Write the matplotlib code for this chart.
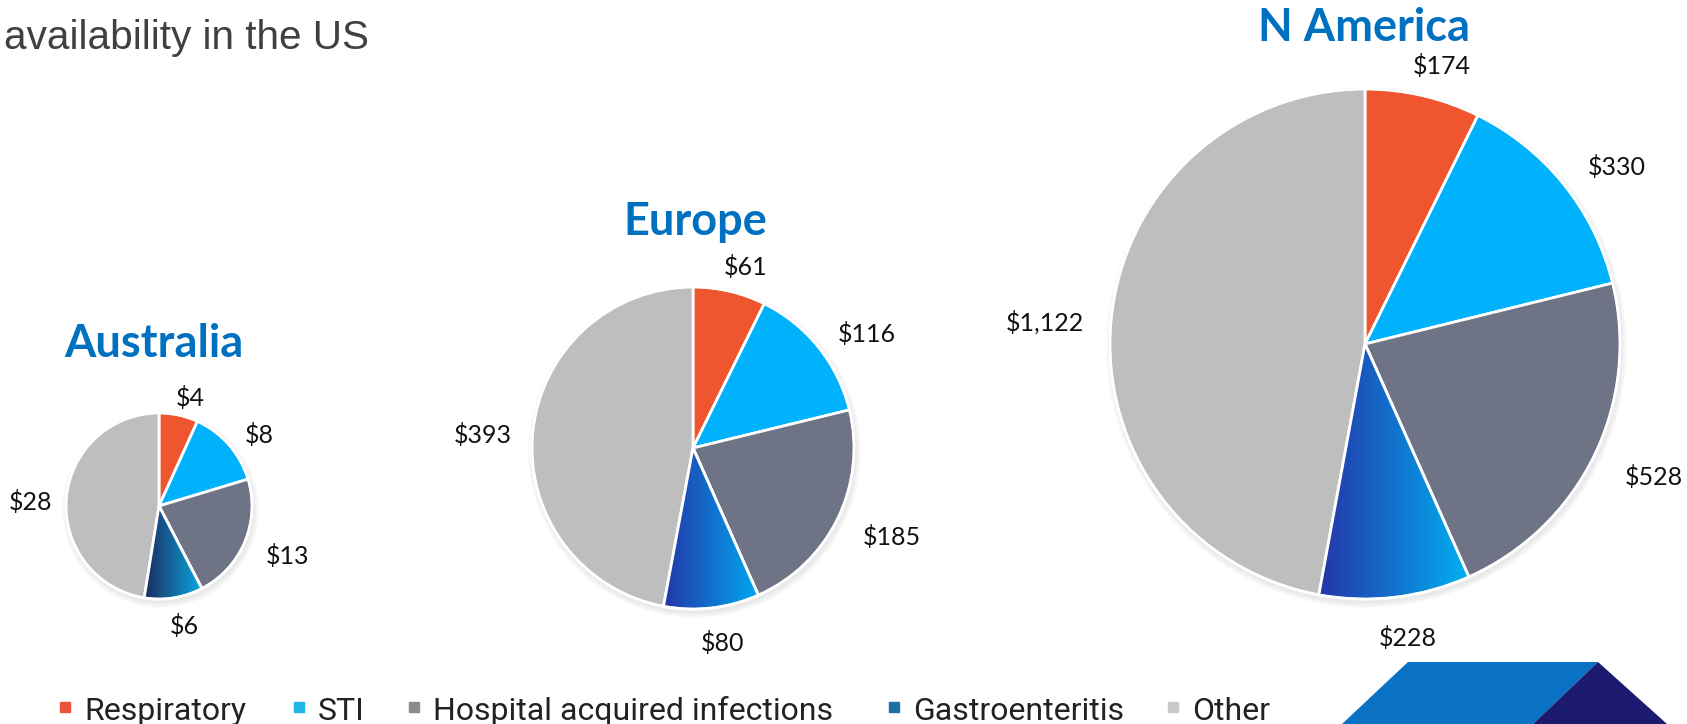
import numpy as np
import matplotlib
matplotlib.use("Agg")
import matplotlib.pyplot as plt
from matplotlib.colors import LinearSegmentedColormap
from matplotlib.patches import Circle, Polygon, Wedge

# ---------------- data ----------------
categories = ["Respiratory", "STI", "Hospital acquired infections", "Gastroenteritis", "Other"]
regions = ["Australia", "Europe", "N America"]
australia = [4, 8, 13, 6, 28]
europe = [61, 116, 185, 80, 393]
n_america = [174, 330, 528, 228, 1122]
header_text = "availability in the US"

# ---------------- style / layout ----------------
W, H = 1687, 724
slice_colors = ["#EF5630", "#00B2FC", "#6E7385", "#1565C8", "#BEBEBE"]
legend_colors = ["#E8533A", "#21B6EA", "#8C8C8C", "#1D6FA5", "#C9C9C9"]
gastro_grad = [("#1C2B5E", "#0AA8E0"), ("#2436A8", "#00A8F0"), ("#2535A8", "#00B0F2")]
# (center x px, center y px from top, radius px, label gap px, title x, title baseline y)
layout = [
    (159, 506, 93, 19, 154, 357),
    (693, 448, 161, 26, 695, 235),
    (1365, 344, 255, 32, 1364, 41),
]
label_dy_reduce = 8      # vertical gap is a bit tighter than horizontal
label_dx_shift = 5
label_dy_shift = -5
legend_x = [65, 299, 414, 894, 1173]   # swatch x positions (px)
legend_y = 711
title_color = "#0070C0"
label_font = ["Lato", "DejaVu Sans"]

fig = plt.figure(figsize=(W / 100, H / 100), dpi=100)
ax = fig.add_axes([0, 0, 1, 1])
ax.set_xlim(0, W)
ax.set_ylim(0, H)

all_values = [australia, europe, n_america]
placed = []  # (text, anchor, unit vector)

for values, (cx, cyt, r, gap, tx, tyt), grad, name in zip(all_values, layout, gastro_grad, regions):
    cy = H - cyt
    # soft shadow
    for k in range(5):
        ax.add_patch(Circle((cx + 1.5, cy - 3.5), r + 0.5 + k * 1.2, color="#9a9a9a",
                            alpha=0.045, lw=0, zorder=1))
    wedges, _ = ax.pie(values, colors=slice_colors, startangle=90, counterclock=False,
                       center=(cx, cy), radius=r,
                       wedgeprops=dict(edgecolor="white", linewidth=2, zorder=2))
    # labels placed just outside each slice
    for w, v in zip(wedges, values):
        mid = np.deg2rad((w.theta1 + w.theta2) / 2)
        u = np.array([np.cos(mid), np.sin(mid)])
        anchor = np.array([cx + label_dx_shift, cy + label_dy_shift]) + u * r + \
            np.array([u[0] * gap, u[1] * (gap - label_dy_reduce)])
        t = ax.text(anchor[0], anchor[1], "\\$" + f"{v:,}", ha="center", va="center",
                    fontsize=18, family=label_font, color="#111111")
        placed.append((t, anchor, u))
    # gradient for gastroenteritis slice
    gw = wedges[3]
    ext = gw.get_path().get_extents()
    cmap = LinearSegmentedColormap.from_list("g", list(grad))
    img = ax.imshow(np.linspace(0, 1, 256)[None, :], cmap=cmap, aspect="auto",
                    extent=(ext.x0, ext.x1, ext.y0, ext.y1), zorder=2.5,
                    interpolation="bilinear")
    img.set_clip_path(gw)
    ax.add_patch(Wedge(gw.center, gw.r, gw.theta1, gw.theta2, fill=False,
                       edgecolor="white", linewidth=2, zorder=3))
    ax.add_patch(Circle((cx, cy), r, fill=False, edgecolor="white", lw=1.5, zorder=3))
    ax.text(tx, H - tyt, name, ha="center", va="baseline", fontsize=32.5,
            fontweight="bold", color=title_color, family=label_font)

# header text
ax.text(4, H - 49, header_text, ha="left", va="baseline", fontsize=29.2,
        color="#404040", family=["Liberation Sans", "DejaVu Sans"])

# logo (decoration)
ax.add_patch(Polygon([(1408, H - 662), (1598, H - 662), (1533, 0), (1342, 0)],
                     closed=True, color="#0A72C4", lw=0, zorder=1))
ax.add_patch(Polygon([(1598, H - 662), (1667, 0), (1533, 0)],
                     closed=True, color="#1C1A6E", lw=0, zorder=1))

# legend
for x, c, lab in zip(legend_x, legend_colors, categories):
    ax.plot([x], [H - legend_y + 4], marker="s", markersize=7.5, color=c, linestyle="",
            zorder=4)
    ax.text(x + 19, H - legend_y, lab, ha="left", va="center", fontsize=23,
            family=["Roboto", "DejaVu Sans"], fontweight="normal", color="#222222")

ax.set_xlim(0, W)
ax.set_ylim(0, H)
ax.set_aspect("equal")
ax.axis("off")

# shift labels so their near edge touches the anchor point
fig.canvas.draw()
renderer = fig.canvas.get_renderer()
for t, anchor, u in placed:
    bb = t.get_window_extent(renderer)
    t.set_position((anchor[0] + u[0] * bb.width / 2, anchor[1] + u[1] * bb.height / 2))

fig.savefig("out.png", dpi=100)
